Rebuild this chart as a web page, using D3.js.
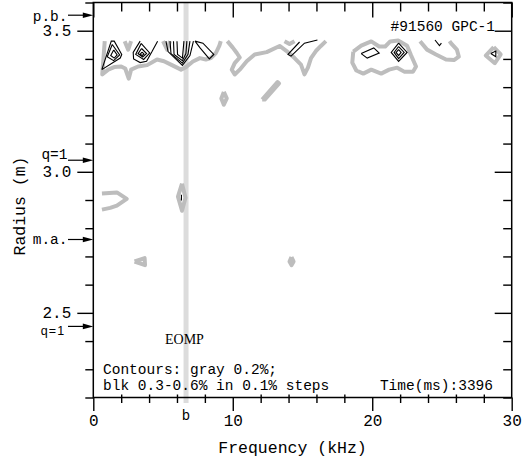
<!DOCTYPE html>
<html><head><meta charset="utf-8">
<script src="https://cdn.jsdelivr.net/npm/d3@7"></script>
<style>body{margin:0;background:#fff}svg{display:block}</style>
</head><body>
<svg id="chart" width="522" height="459"></svg>
<script>
// ---------------- DATA ----------------
const xMajorTicks = [0, 10, 20, 30];
const xMinorTicks = [2, 4, 6, 8, 12, 14, 16, 18, 22, 24, 26, 28];
const yMajorTicks = [2.5, 3.0, 3.5];
const yMinorTicks = [2.2, 2.3, 2.4, 2.6, 2.7, 2.8, 2.9, 3.1, 3.2, 3.3, 3.4, 3.6];
const xDomain = [0, 30];
const yDomain = [2.2, 3.6];

const markerNames = ["p.b.", "q=1", "m.a.", "q=1"];
const markerRadii = [3.555, 3.041, 2.760, 2.452];

const bandFreq = 6.65;
const bandLabel = "b";

// gray contours: 0.2 %
const grayContours = [
  [[0.82,3.463],[0.75,3.416],[0.64,3.345],[1.07,3.362],[1.50,3.371],[2.00,3.373],[2.29,3.366],[2.54,3.330],[2.71,3.362],[3.21,3.373],[3.86,3.378],[4.57,3.398],[5.07,3.392],[5.64,3.378],[6.29,3.362],[6.64,3.371],[7.14,3.391],[7.64,3.403],[8.07,3.398],[8.43,3.403],[8.79,3.421],[9.04,3.447],[9.14,3.463]],
  [[2.25,3.463],[2.50,3.433],[2.71,3.463]],
  [[5.00,3.463],[5.29,3.433],[5.50,3.463]],
  [[9.61,3.463],[10.00,3.440],[10.29,3.421],[10.50,3.405],[10.14,3.385],[9.93,3.362],[10.14,3.345],[10.50,3.362],[11.00,3.392],[11.57,3.416],[12.43,3.424],[13.36,3.446],[13.86,3.428],[14.43,3.403],[14.89,3.380],[15.14,3.345],[15.39,3.369],[15.61,3.403],[15.96,3.428],[16.32,3.446],[16.68,3.463]],
  [[13.71,3.463],[14.07,3.453],[14.43,3.463]],
  [[12.11,3.256],[13.21,3.318],[13.32,3.313],[12.29,3.256],[12.11,3.256]],
  [[9.36,3.283],[9.57,3.260],[9.36,3.238],[9.18,3.260],[9.36,3.283]],
  [[18.64,3.426],[19.21,3.447],[19.93,3.462],[20.50,3.444],[20.93,3.444],[21.29,3.462],[21.86,3.465],[22.50,3.447],[22.79,3.412],[23.14,3.373],[22.93,3.355],[22.29,3.355],[21.79,3.369],[21.21,3.362],[20.64,3.348],[19.93,3.362],[19.36,3.348],[18.86,3.359],[18.57,3.387],[18.64,3.426]],
  [[23.43,3.463],[23.93,3.433],[24.57,3.416],[25.29,3.398],[25.86,3.396],[26.21,3.408],[26.07,3.433],[25.64,3.456],[25.54,3.463]],
  [[28.71,3.442],[29.21,3.416],[28.79,3.385],[28.14,3.412],[28.71,3.442]],
  [[0.62,2.923],[1.69,2.927],[2.40,2.904],[1.69,2.880],[1.21,2.872],[0.62,2.866]],
  [[6.36,2.958],[6.61,2.908],[6.36,2.862],[6.07,2.912],[6.36,2.958]],
  [[2.96,2.682],[3.68,2.694],[3.71,2.669],[2.96,2.682]],
  [[14.21,2.698],[14.36,2.682],[14.21,2.669],[14.07,2.682],[14.21,2.698]]
];

// black contours: 0.3 - 0.6 %
const blackContours = [
  [[0.61,3.362],[1.29,3.463],[1.50,3.463],[2.04,3.416],[1.93,3.403],[0.61,3.362]],
  [[1.36,3.451],[1.89,3.414],[1.46,3.394],[1.00,3.408],[1.36,3.451]],
  [[1.46,3.432],[1.71,3.414],[1.50,3.403],[1.25,3.412],[1.46,3.432]],
  [[3.36,3.463],[2.86,3.423],[2.89,3.400],[3.36,3.387],[3.82,3.392],[4.21,3.426],[4.61,3.463]],
  [[3.43,3.455],[4.04,3.421],[3.61,3.398],[3.04,3.416],[3.43,3.455]],
  [[3.46,3.437],[3.82,3.419],[3.54,3.407],[3.21,3.419],[3.46,3.437]],
  [[3.50,3.424],[3.64,3.417],[3.50,3.412],[3.36,3.417],[3.50,3.424]],
  [[5.21,3.463],[5.36,3.426],[6.39,3.377],[6.93,3.412],[7.18,3.463]],
  [[5.50,3.463],[5.57,3.419],[6.39,3.385],[6.79,3.416],[6.93,3.463]],
  [[5.75,3.463],[5.79,3.416],[6.39,3.394],[6.64,3.419],[6.71,3.463]],
  [[6.00,3.463],[6.04,3.416],[6.39,3.403],[6.50,3.463]],
  [[7.29,3.463],[7.86,3.456],[8.64,3.416],[8.32,3.400],[7.64,3.440],[7.29,3.463]],
  [[14.79,3.460],[13.96,3.416],[14.18,3.410],[15.14,3.456],[16.07,3.467]],
  [[19.21,3.419],[20.11,3.439],[20.50,3.421],[19.64,3.403],[19.21,3.419]],
  [[21.89,3.456],[22.50,3.423],[21.89,3.391],[21.36,3.423],[21.89,3.456]],
  [[21.89,3.444],[22.29,3.423],[21.89,3.401],[21.57,3.423],[21.89,3.444]],
  [[21.89,3.433],[22.07,3.423],[21.89,3.412],[21.71,3.423],[21.89,3.433]],
  [[24.50,3.467],[24.82,3.447],[24.96,3.456]],
  [[28.50,3.419],[28.86,3.428],[28.86,3.408],[28.50,3.419]],
  [[6.32,2.919],[6.32,2.898]]
];

const xTitle = "Frequency (kHz)";
const yTitle = "Radius (m)";
const shotLabel = "#91560 GPC-1";
const modeLabel = "EOMP";
const noteLine1 = "Contours: gray 0.2%;";
const noteLine2 = "blk 0.3-0.6% in 0.1% steps";
const timeLabel = "Time(ms):3396";

// ---------------- DRAW ----------------
const L = 93.3, R = 511.7, T = 2.5, B = 397.5;
const mono = "'Liberation Mono', 'DejaVu Sans Mono', monospace";
const svg = d3.select("#chart");
const x = d3.scaleLinear().domain(xDomain).range([L, R]);
const y = d3.scaleLinear().domain(yDomain).range([B, T]);

// band
svg.append("line")
  .attr("x1", x(bandFreq)).attr("x2", x(bandFreq))
  .attr("y1", T).attr("y2", B + 5.5)
  .attr("stroke", "#dcdcdc").attr("stroke-width", 5);

const line = d3.line().x(d => x(d[0])).y(d => y(d[1]));
svg.append("g").selectAll("path").data(grayContours).join("path")
  .attr("d", line).attr("fill", "none").attr("stroke", "#bdbdbd")
  .attr("stroke-width", 4).attr("stroke-linejoin", "round");
svg.append("g").selectAll("path").data(blackContours).join("path")
  .attr("d", line).attr("fill", "none").attr("stroke", "#000")
  .attr("stroke-width", 1.1).attr("stroke-linejoin", "miter");

// axes
function styleAxis(g) {
  g.select(".domain").remove();
  g.selectAll(".tick line").attr("stroke", "#000").attr("stroke-width", 1.4);
  g.selectAll("text").attr("font-family", mono).attr("font-size", 16).attr("fill", "#000");
}
svg.append("g").attr("transform", `translate(0,${B})`)
  .call(d3.axisBottom(x).tickValues(xMajorTicks).tickSize(13.5).tickPadding(4).tickFormat(d3.format("d")))
  .call(styleAxis);
svg.append("g").attr("transform", `translate(0,${B})`)
  .call(d3.axisBottom(x).tickValues(xMinorTicks).tickSize(5.5).tickFormat(""))
  .call(styleAxis);
svg.append("g").attr("transform", `translate(0,${B})`)
  .call(d3.axisBottom(x).tickValues(xMinorTicks).tickSize(-3).tickFormat(""))
  .call(styleAxis);
svg.append("g").attr("transform", `translate(0,${T})`)
  .call(d3.axisTop(x).tickValues(xMajorTicks).tickSize(-15).tickFormat(""))
  .call(styleAxis);
svg.append("g").attr("transform", `translate(0,${T})`)
  .call(d3.axisTop(x).tickValues(xMinorTicks).tickSize(-9).tickFormat(""))
  .call(styleAxis);
svg.append("g").attr("transform", `translate(${L},0)`)
  .call(d3.axisLeft(y).tickValues(yMajorTicks).tickSize(16).tickPadding(6).tickFormat(d3.format(".1f")))
  .call(styleAxis);
svg.append("g").attr("transform", `translate(${L},0)`)
  .call(d3.axisLeft(y).tickValues(yMinorTicks).tickSize(8).tickFormat(""))
  .call(styleAxis);
svg.append("g").attr("transform", `translate(${R},0)`)
  .call(d3.axisRight(y).tickValues(yMajorTicks).tickSize(-17).tickFormat(""))
  .call(styleAxis);
svg.append("g").attr("transform", `translate(${R},0)`)
  .call(d3.axisRight(y).tickValues(yMinorTicks).tickSize(-8.5).tickFormat(""))
  .call(styleAxis);

// frame
svg.append("rect").attr("x", L).attr("y", T).attr("width", R - L).attr("height", B - T)
  .attr("fill", "none").attr("stroke", "#000").attr("stroke-width", 1.5);

// markers on left
const markerDy = [5.5, -1, 4, 9];
markerNames.forEach((name, i) => {
  const yy = y(markerRadii[i]);
  svg.append("line").attr("x1", 68).attr("x2", L - 6).attr("y1", yy).attr("y2", yy)
    .attr("stroke", "#000").attr("stroke-width", 1.2);
  svg.append("path")
    .attr("d", `M${L},${yy}L${L - 10.5},${yy - 2.8}L${L - 10.5},${yy + 2.8}Z`)
    .attr("fill", "#000");
  const last = i === markerNames.length - 1;
  svg.append("text").attr("x", last ? 65.5 : 67.5).attr("y", yy + markerDy[i])
    .attr("text-anchor", "end")
    .attr("font-family", last ? "'Liberation Sans', Arial, sans-serif" : mono)
    .attr("font-size", last ? 12.5 : 14.5)
    .attr("letter-spacing", last ? 1.2 : 0)
    .text(name);
});

// band label
svg.append("text").attr("x", x(bandFreq)).attr("y", 419.5).attr("text-anchor", "middle")
  .attr("font-family", mono).attr("font-size", 14).text(bandLabel);

// annotations
svg.append("text").attr("x", 495).attr("y", 30.5).attr("text-anchor", "end")
  .attr("font-family", mono).attr("font-size", 14.5).text(shotLabel);
svg.append("text").attr("x", 165).attr("y", 344).attr("font-family", "'Liberation Serif', 'Times New Roman', serif")
  .attr("font-size", 14).text(modeLabel);
svg.append("text").attr("x", 103).attr("y", 374.3).attr("font-family", mono).attr("font-size", 14.5).text(noteLine1);
svg.append("text").attr("x", 103).attr("y", 389.5).attr("font-family", mono).attr("font-size", 14.5).text(noteLine2);
svg.append("text").attr("x", 493).attr("y", 389.5).attr("text-anchor", "end")
  .attr("font-family", mono).attr("font-size", 14.5).text(timeLabel);

// axis titles
svg.append("text").attr("x", 292.5).attr("y", 453).attr("text-anchor", "middle")
  .attr("font-family", mono).attr("font-size", 16.5).text(xTitle);
svg.append("text").attr("transform", "translate(25,206) rotate(-90)").attr("text-anchor", "middle")
  .attr("font-family", mono).attr("font-size", 16.5).text(yTitle);
</script>
</body></html>
